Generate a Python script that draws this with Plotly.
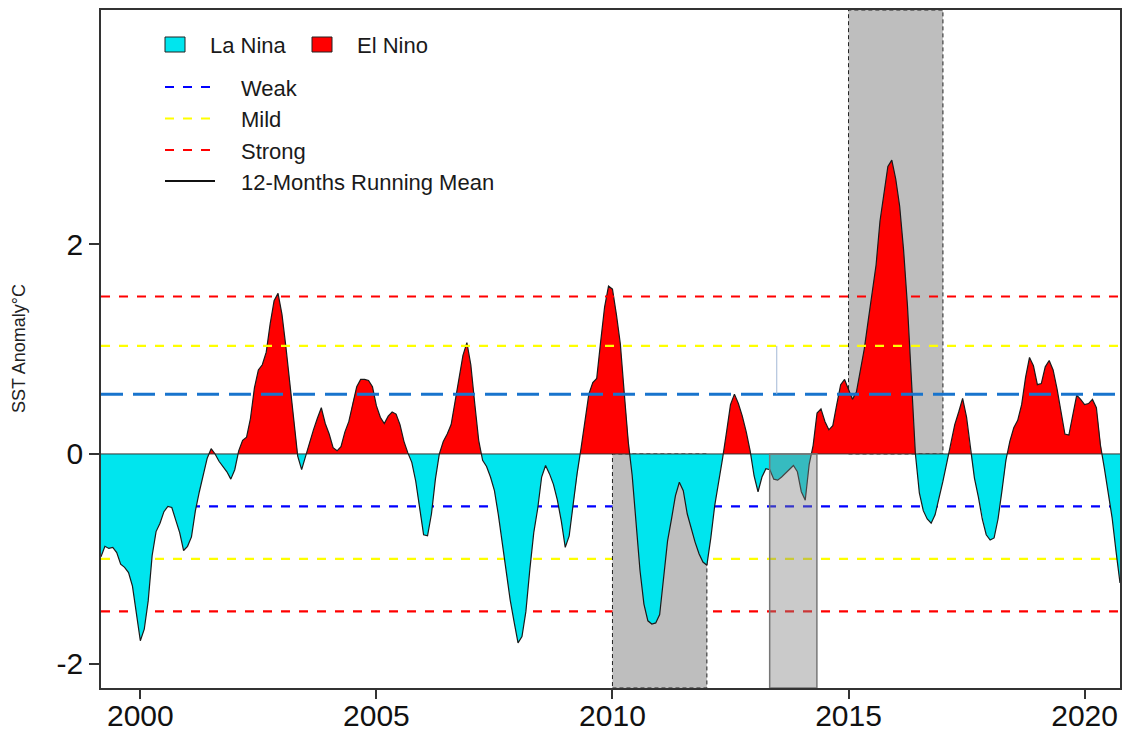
import numpy as np
import plotly.graph_objects as go

# 12-month running mean of the SST anomaly (°C), monthly from March 1999 to October 2020
start_year, start_month = 1999, 3
sst_anomaly = [
    # 1999 (Mar-Dec)
    -0.98, -0.88, -0.90, -0.89, -0.94, -1.05, -1.08, -1.13, -1.26, -1.53,
    # 2000
    -1.78, -1.67, -1.40, -0.97, -0.74, -0.66, -0.55, -0.50, -0.51, -0.63, -0.75, -0.92,
    # 2001
    -0.88, -0.79, -0.54, -0.36, -0.19, -0.04, 0.05, 0.00, -0.07, -0.12, -0.17, -0.24,
    # 2002
    -0.15, 0.03, 0.13, 0.16, 0.34, 0.63, 0.80, 0.85, 0.97, 1.24, 1.46, 1.53,
    # 2003
    1.33, 1.02, 0.69, 0.33, -0.02, -0.15, -0.02, 0.11, 0.23, 0.34, 0.44, 0.29,
    # 2004
    0.19, 0.06, 0.03, 0.07, 0.21, 0.31, 0.49, 0.64, 0.71, 0.71, 0.70, 0.64,
    # 2005
    0.46, 0.35, 0.29, 0.36, 0.40, 0.38, 0.28, 0.12, 0.01, -0.08, -0.26, -0.53,
    # 2006
    -0.77, -0.78, -0.57, -0.24, 0.00, 0.12, 0.19, 0.28, 0.50, 0.71, 0.94, 1.06,
    # 2007
    0.85, 0.48, 0.13, -0.06, -0.12, -0.22, -0.35, -0.58, -0.86, -1.15, -1.39, -1.60,
    # 2008
    -1.80, -1.74, -1.50, -1.10, -0.75, -0.52, -0.22, -0.11, -0.19, -0.29, -0.44, -0.64,
    # 2009
    -0.89, -0.78, -0.48, -0.19, 0.05, 0.33, 0.57, 0.68, 0.72, 1.07, 1.40, 1.60,
    # 2010
    1.57, 1.33, 1.05, 0.58, 0.12, -0.20, -0.67, -1.11, -1.43, -1.59, -1.62, -1.61,
    # 2011
    -1.53, -1.17, -0.83, -0.62, -0.40, -0.27, -0.35, -0.57, -0.71, -0.84, -0.95, -1.03,
    # 2012
    -1.06, -0.80, -0.49, -0.28, -0.04, 0.21, 0.47, 0.57, 0.48, 0.36, 0.21, 0.03,
    # 2013
    -0.21, -0.36, -0.22, -0.14, -0.15, -0.24, -0.25, -0.22, -0.18, -0.15, -0.11, -0.17,
    # 2014
    -0.36, -0.44, -0.10, 0.08, 0.39, 0.43, 0.31, 0.23, 0.27, 0.47, 0.66, 0.71,
    # 2015
    0.61, 0.52, 0.59, 0.81, 1.00, 1.27, 1.52, 1.80, 2.22, 2.48, 2.74, 2.80,
    # 2016
    2.62, 2.36, 1.94, 1.40, 0.70, 0.00, -0.37, -0.54, -0.62, -0.66, -0.58, -0.43,
    # 2017
    -0.26, -0.08, 0.09, 0.28, 0.40, 0.53, 0.35, 0.03, -0.23, -0.41, -0.62, -0.77,
    # 2018
    -0.82, -0.80, -0.62, -0.35, -0.06, 0.12, 0.25, 0.32, 0.47, 0.73, 0.92, 0.84,
    # 2019
    0.66, 0.67, 0.83, 0.89, 0.80, 0.62, 0.40, 0.19, 0.18, 0.39, 0.56, 0.52,
    # 2020 (Jan-Oct)
    0.47, 0.48, 0.52, 0.44, 0.09, -0.13, -0.36, -0.61, -0.93, -1.23,
]

# Intensity thresholds (°C)
threshold_names = ["Weak", "Mild", "Strong"]
threshold_colors = ["#0000FF", "#FFFF00", "#FF0000"]
la_nina_thresholds = [-0.5, -1.0, -1.5]
el_nino_thresholds = [0.57, 1.03, 1.5]

# Highlighted periods (decimal years)
la_nina_period = (2010.0, 2012.0)
el_nino_period = (2015.0, 2017.0)
neutral_period = (2013.33, 2014.33)
marker_year = 2013.48

x_ticks = [2000, 2005, 2010, 2015, 2020]
y_ticks = [-2, 0, 2]
x_range = [1999.167, 2020.75]
y_range = [-2.23, 4.23]

NINA_COLOR = "#00E5EE"
NINO_COLOR = "#FF0000"
BAND_COLOR = "#BEBEBE"
FONT = "Liberation Sans, Arial, sans-serif"

# Figure geometry in pixels
W, H = 1123, 736
ML, MR, MT, MB = 101, 3, 10, 48
PW, PH = W - ML - MR, H - MT - MB


def px(xp):
    return (xp - ML) / PW


def py(yp):
    return (H - MB - yp) / PH


v = np.array(sst_anomaly, dtype=float)
t = start_year + (start_month - 1 + np.arange(len(v))) / 12.0

# insert the zero crossings so the two fills meet cleanly at the baseline
xs, ys = [t[0]], [v[0]]
for i in range(1, len(v)):
    if v[i - 1] * v[i] < 0:
        xc = t[i - 1] + (t[i] - t[i - 1]) * v[i - 1] / (v[i - 1] - v[i])
        xs.append(xc)
        ys.append(0.0)
    xs.append(t[i])
    ys.append(v[i])
xs = np.array(xs)
ys = np.array(ys)

fig = go.Figure()
fig.add_trace(go.Scatter(x=xs, y=np.minimum(ys, 0), mode="lines", fill="tozeroy",
                         fillcolor=NINA_COLOR, line=dict(width=0), hoverinfo="skip"))
fig.add_trace(go.Scatter(x=xs, y=np.maximum(ys, 0), mode="lines", fill="tozeroy",
                         fillcolor=NINO_COLOR, line=dict(width=0), hoverinfo="skip"))
fig.add_trace(go.Scatter(x=[t[0], t[-1]], y=[0, 0], mode="lines",
                         line=dict(color="#333333", width=1), hoverinfo="skip"))
fig.add_trace(go.Scatter(x=t, y=v, mode="lines", name="12-Months Running Mean",
                         line=dict(color="#1a1a1a", width=1.2)))

shapes = []
# shaded periods behind the fills
shapes.append(dict(type="rect", xref="x", yref="y", x0=la_nina_period[0], x1=la_nina_period[1],
                   y0=y_range[0], y1=0, fillcolor=BAND_COLOR,
                   line=dict(color="#222222", width=1, dash="4px,3px"), layer="below"))
shapes.append(dict(type="rect", xref="x", yref="y", x0=el_nino_period[0], x1=el_nino_period[1],
                   y0=0, y1=y_range[1], fillcolor=BAND_COLOR,
                   line=dict(color="#222222", width=1, dash="4px,3px"), layer="below"))

# La Nina thresholds sit under the fills
for lvl, col in zip(la_nina_thresholds, threshold_colors):
    shapes.append(dict(type="line", xref="x domain", yref="y", x0=0, x1=1, y0=lvl, y1=lvl,
                       line=dict(color=col, width=2.2, dash="9px,9px"), layer="below"))

# El Nino thresholds drawn over the fills
upper_styles = [dict(color="#1874CD", width=3, dash="22px,10px"),
                dict(color="#FFFF00", width=2.2, dash="9px,9px"),
                dict(color="#FF0000", width=2.2, dash="9px,9px")]
for lvl, st in zip(el_nino_thresholds, upper_styles):
    shapes.append(dict(type="line", xref="x domain", yref="y", x0=0, x1=1, y0=lvl, y1=lvl,
                       line=st, layer="above"))
shapes.append(dict(type="line", xref="x", yref="y", x0=marker_year, x1=marker_year,
                   y0=el_nino_thresholds[0], y1=el_nino_thresholds[1],
                   line=dict(color="#A3B8D6", width=1), layer="above"))

# translucent neutral period on top
shapes.append(dict(type="rect", xref="x", yref="y", x0=neutral_period[0], x1=neutral_period[1],
                   y0=y_range[0], y1=0, fillcolor="rgba(128,128,128,0.42)",
                   line=dict(color="#777777", width=1.5), layer="above"))

# legend
legend_font = dict(family=FONT, size=22, color="#1a1a1a")
annotations = []
for (x0, x1, lx), col, label in [((165, 185, 208), NINA_COLOR, "La Nina"),
                                  ((312, 332, 355), NINO_COLOR, "El Nino")]:
    shapes.append(dict(type="rect", xref="paper", yref="paper", x0=px(x0), x1=px(x1),
                       y0=py(52), y1=py(37), fillcolor=col,
                       line=dict(color="#222222", width=1), layer="above"))
    annotations.append(dict(xref="paper", yref="paper", x=px(lx), y=py(45), text=label,
                            showarrow=False, xanchor="left", yanchor="middle", font=legend_font))

legend_rows = [87, 118.5, 150, 181]
line_styles = [dict(color=c, width=2.2, dash="9px,9px") for c in threshold_colors]
line_styles.append(dict(color="#111111", width=2))
labels = threshold_names + ["12-Months Running Mean"]
for yrow, st, label in zip(legend_rows, line_styles, labels):
    shapes.append(dict(type="line", xref="paper", yref="paper", x0=px(165), x1=px(215),
                       y0=py(yrow), y1=py(yrow), line=st, layer="above"))
    annotations.append(dict(xref="paper", yref="paper", x=px(239), y=py(yrow + 1.5), text=label,
                            showarrow=False, xanchor="left", yanchor="middle", font=legend_font))

annotations.append(dict(xref="paper", yref="paper", x=px(19), y=0.5, text="SST Anomaly°C",
                        textangle=-90, showarrow=False, xanchor="center", yanchor="middle",
                        font=dict(family=FONT, size=18, color="#222222")))

axis_common = dict(showgrid=False, zeroline=False, showline=True, mirror=True,
                   linecolor="#333333", linewidth=1.5, ticks="outside",
                   tickwidth=1.5, tickcolor="#333333", automargin=False,
                   tickfont=dict(family=FONT, size=30, color="#111111"))

fig.update_layout(
    width=W, height=H,
    margin=dict(l=ML, r=MR, t=MT, b=MB, pad=0, autoexpand=False),
    paper_bgcolor="white", plot_bgcolor="white",
    showlegend=False,
    shapes=shapes, annotations=annotations,
    xaxis=dict(range=x_range, tickvals=x_ticks, ticktext=[str(x) for x in x_ticks],
               ticklen=9, ticklabelstandoff=-9, **axis_common),
    yaxis=dict(range=y_range, tickvals=y_ticks, ticktext=[str(y) for y in y_ticks],
               ticklen=10, **axis_common),
)

fig.write_html("out.html")
